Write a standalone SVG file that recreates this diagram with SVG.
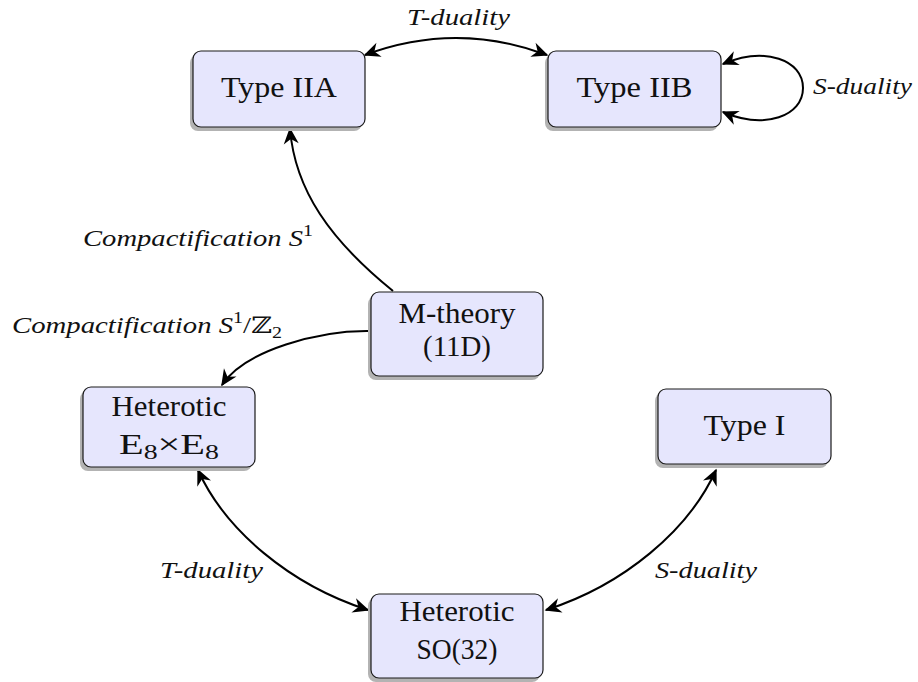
<svg xmlns="http://www.w3.org/2000/svg" width="918" height="682" viewBox="0 0 918 682">
<defs>
<style>
.box{fill:#e6e6fd;stroke:#1a1a1a;stroke-width:1.2}
.sh{fill:#b3b3b3}
.nt{font-family:"Liberation Serif","Times New Roman","DejaVu Serif",serif;font-size:29px;fill:#111;text-anchor:middle}
.lb{font-family:"Liberation Serif","Times New Roman","DejaVu Serif",serif;font-size:23px;font-style:italic;fill:#111}
.edge{fill:none;stroke:#000;stroke-width:2}
</style>
<marker id="ah" viewBox="-20 -10 22 20" refX="0" refY="0" markerWidth="22" markerHeight="20" markerUnits="userSpaceOnUse" orient="auto-start-reverse">
<path d="M1.5,0 L-15,-7.5 L-10,0 L-15,7.5 z" fill="#000"/>
</marker>
</defs>
<rect width="918" height="682" fill="#fff"/>
<g id="connectors">
<path class="edge" d="M365,55 Q456,21 547,55" marker-start="url(#ah)" marker-end="url(#ah)"/>
<path class="edge" d="M723,64 C765,46 803,60 803,88 C803,116 765,130 723,112" marker-start="url(#ah)" marker-end="url(#ah)"/>
<path class="edge" d="M393,291 C330,240 295,190 290,129" marker-end="url(#ah)"/>
<path class="edge" d="M371,331 C320,330 245,350 222,385" marker-end="url(#ah)"/>
<path class="edge" d="M198,470 C225,530 290,585 368,610" marker-start="url(#ah)" marker-end="url(#ah)"/>
<path class="edge" d="M716,470 C689,530 624,585 546,610" marker-start="url(#ah)" marker-end="url(#ah)"/>
<text class="lb" x="407" y="25" textLength="103" lengthAdjust="spacingAndGlyphs" font-family="Liberation Serif, serif">T-duality</text>
<text class="lb" x="813" y="94" textLength="99" lengthAdjust="spacingAndGlyphs" font-family="Liberation Serif, serif">S-duality</text>
<text class="lb" x="83" y="246" textLength="230" lengthAdjust="spacingAndGlyphs" font-family="Liberation Serif, serif">Compactification S<tspan dy="-10" font-size="16" font-style="normal">1</tspan></text>
<text class="lb" x="12" y="333" textLength="270" lengthAdjust="spacingAndGlyphs" font-family="Liberation Serif, serif">Compactification S<tspan dy="-10" font-size="16" font-style="normal">1</tspan><tspan dy="10" font-style="normal">/ℤ</tspan><tspan dy="5" font-size="16" font-style="normal">2</tspan></text>
<text class="lb" x="160" y="578" textLength="103" lengthAdjust="spacingAndGlyphs" font-family="Liberation Serif, serif">T-duality</text>
<text class="lb" x="655" y="578" textLength="102" lengthAdjust="spacingAndGlyphs" font-family="Liberation Serif, serif">S-duality</text>
</g>
<g id="typeIIA">
<rect class="sh" x="190" y="55" width="172" height="76" rx="8"/>
<rect class="box" x="193" y="51" width="172" height="76" rx="8"/>
<text class="nt" x="279" y="97" textLength="116" lengthAdjust="spacingAndGlyphs" font-family="Liberation Serif, serif">Type IIA</text>
</g>
<g id="typeIIB">
<rect class="sh" x="545" y="55" width="173" height="76" rx="8"/>
<rect class="box" x="548" y="51" width="173" height="76" rx="8"/>
<text class="nt" x="634.5" y="97" textLength="116" lengthAdjust="spacingAndGlyphs" font-family="Liberation Serif, serif">Type IIB</text>
</g>
<g id="mtheory">
<rect class="sh" x="368" y="296" width="172" height="84" rx="8"/>
<rect class="box" x="371" y="292" width="172" height="84" rx="8"/>
<text class="nt" x="457" y="323" textLength="117" lengthAdjust="spacingAndGlyphs" font-family="Liberation Serif, serif">M-theory</text>
<text class="nt" x="457" y="356" textLength="68" lengthAdjust="spacingAndGlyphs" font-family="Liberation Serif, serif">(11D)</text>
</g>
<g id="heteroticE8">
<rect class="sh" x="80" y="391" width="172" height="80" rx="8"/>
<rect class="box" x="83" y="387" width="172" height="80" rx="8"/>
<text class="nt" x="169" y="416" textLength="115" lengthAdjust="spacingAndGlyphs" font-family="Liberation Serif, serif">Heterotic</text>
<text class="nt" x="169" y="454" textLength="100" lengthAdjust="spacingAndGlyphs" font-family="Liberation Serif, serif">E<tspan dy="5" font-size="20">8</tspan><tspan dy="-5">×E</tspan><tspan dy="5" font-size="20">8</tspan></text>
</g>
<g id="typeI">
<rect class="sh" x="655" y="393" width="173" height="75" rx="8"/>
<rect class="box" x="658" y="389" width="173" height="75" rx="8"/>
<text class="nt" x="744.5" y="435" textLength="82" lengthAdjust="spacingAndGlyphs" font-family="Liberation Serif, serif">Type I</text>
</g>
<g id="heteroticSO32">
<rect class="sh" x="368" y="598" width="172" height="84" rx="8"/>
<rect class="box" x="371" y="594" width="172" height="84" rx="8"/>
<text class="nt" x="457" y="621" textLength="115" lengthAdjust="spacingAndGlyphs" font-family="Liberation Serif, serif">Heterotic</text>
<text class="nt" x="457" y="659" textLength="81" lengthAdjust="spacingAndGlyphs" font-family="Liberation Serif, serif">SO(32)</text>
</g>
</svg>
